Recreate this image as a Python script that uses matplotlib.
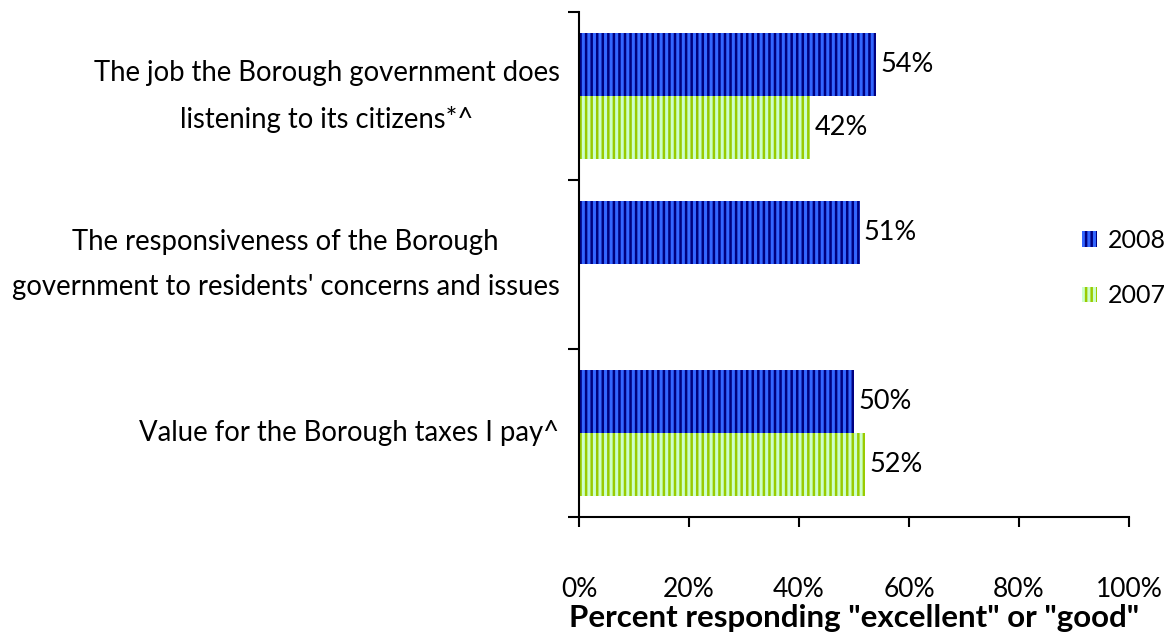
import matplotlib
matplotlib.use("Agg")
import matplotlib.pyplot as plt
import matplotlib.transforms as mtransforms
import numpy as np

categories = [
    "The job the Borough government does\nlistening to its citizens*^",
    "The responsiveness of the Borough\ngovernment to residents' concerns and issues",
    "Value for the Borough taxes I pay^",
]
vals_2008 = [54, 51, 50]
vals_2007 = [42, None, 52]
xticks = [0, 20, 40, 60, 80, 100]
xlabel = 'Percent responding "excellent" or "good"'

plt.rcParams['font.family'] = ['Lato', 'DejaVu Sans']
plt.rcParams['hatch.linewidth'] = 1.8

FS = 19.5
fig = plt.figure(figsize=(11.72, 6.37), dpi=100)
ax = fig.add_axes([579/1172, 1-517/637, (1129-579)/1172, (517-12)/637])

h = 0.375
y = np.arange(len(categories))
for i, v in enumerate(vals_2008):
    if v is None:
        continue
    ax.barh(y[i] - h/2, v, height=h, color='#3366ff', edgecolor='#000080',
            hatch='|||', linewidth=0, label='2008' if i == 0 else None)
    ax.text(v + 0.8, y[i] - h/2, f"{v}%", va='center', ha='left', fontsize=FS)
for i, v in enumerate(vals_2007):
    if v is None:
        continue
    ax.barh(y[i] + h/2, v, height=h, color='#ccffcc', edgecolor='#99cc00',
            hatch='|||', linewidth=0, label='2007' if i == 0 else None)
    ax.text(v + 0.8, y[i] + h/2, f"{v}%", va='center', ha='left', fontsize=FS)

ax.set_xlim(0, 100)
ax.set_ylim(2.5, -0.5)
ax.set_xticks(xticks)
ax.set_xticklabels([f"{t}%" for t in xticks], fontsize=19)
ax.tick_params(axis='x', length=7, width=1.5, pad=36, direction='out')
ax.set_yticks([-0.5, 0.5, 1.5, 2.5])
ax.set_yticklabels([])
ax.tick_params(axis='y', which='major', length=8, width=1.5)
ax.set_yticks(y, minor=True)
ax.set_yticklabels(categories, minor=True, fontsize=19.8, multialignment='center',
                   linespacing=1.9, va='center')
ax.tick_params(axis='y', which='minor', length=0, pad=14)
ax.set_xlabel(xlabel, fontsize=22.5, fontweight='bold', labelpad=2)

for s in ['top', 'right']:
    ax.spines[s].set_visible(False)
for s in ['left', 'bottom']:
    ax.spines[s].set_linewidth(1.5)

ax.legend(loc='center left', bbox_to_anchor=(1082/1172, 1-268/637),
          bbox_transform=fig.transFigure, frameon=False,
          fontsize=18, handlelength=0.6, handleheight=0.6, handletextpad=0.45,
          labelspacing=1.3, borderaxespad=0, borderpad=0)

fig.savefig("out.png", dpi=100)
